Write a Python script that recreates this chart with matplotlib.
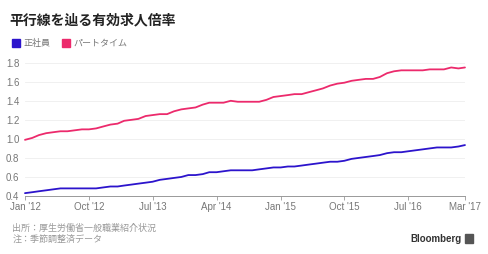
import matplotlib
matplotlib.use("Agg")
import matplotlib.pyplot as plt
import numpy as np
import pandas as pd

plt.rcParams['font.family'] = ['Noto Sans CJK JP', 'DejaVu Sans']

# monthly, Jan 2012 .. Mar 2017 (seasonally adjusted)
months = pd.date_range("2012-01-01", "2017-03-01", freq="MS")
regular = [0.43, 0.44, 0.45, 0.46, 0.47, 0.48, 0.48, 0.48, 0.48, 0.48,
           0.48, 0.49, 0.50, 0.50, 0.51, 0.52, 0.53, 0.54, 0.55, 0.57,
           0.58, 0.59, 0.60, 0.62, 0.62, 0.63, 0.65, 0.65, 0.66, 0.67,
           0.67, 0.67, 0.67, 0.68, 0.69, 0.70, 0.70, 0.71, 0.71, 0.72,
           0.73, 0.74, 0.75, 0.76, 0.76, 0.77, 0.79, 0.80, 0.81, 0.82,
           0.83, 0.85, 0.86, 0.86, 0.87, 0.88, 0.89, 0.90, 0.91, 0.91,
           0.91, 0.92, 0.935]
parttime = [0.99, 1.01, 1.04, 1.06, 1.07, 1.08, 1.08, 1.09, 1.10, 1.10,
            1.11, 1.13, 1.15, 1.16, 1.19, 1.20, 1.21, 1.24, 1.25, 1.26,
            1.26, 1.29, 1.31, 1.32, 1.33, 1.36, 1.38, 1.38, 1.38, 1.40,
            1.39, 1.39, 1.39, 1.39, 1.41, 1.44, 1.45, 1.46, 1.47, 1.47,
            1.49, 1.51, 1.53, 1.56, 1.58, 1.59, 1.61, 1.62, 1.63, 1.63,
            1.65, 1.69, 1.71, 1.72, 1.72, 1.72, 1.72, 1.73, 1.73, 1.73,
            1.75, 1.74, 1.75]
series_names = ["正社員", "パートタイム"]
colors = ["#2c14cc", "#ec2a6c"]

xtick_dates = ["2012-01-01", "2012-10-01", "2013-07-01", "2014-04-01",
               "2015-01-01", "2015-10-01", "2016-07-01", "2017-03-01"]
xtick_labels = ["Jan '12", "Oct '12", "Jul '13", "Apr '14",
                "Jan '15", "Oct '15", "Jul '16", "Mar '17"]
yticks = [0.4, 0.6, 0.8, 1.0, 1.2, 1.4, 1.6, 1.8]

fig = plt.figure(figsize=(4.88, 2.54), dpi=100)
ax = fig.add_axes([0.0512, 0.2283, 0.9016, 0.5248])

for vals, c in zip([regular, parttime], colors):
    ax.plot(months, vals, color=c, linewidth=1.3, solid_capstyle='round', clip_on=False)

ax.set_xlim(months[0], months[-1])
ax.set_ylim(0.4, 1.8)
ax.set_yticks(yticks)
ax.set_yticklabels([f"{v:.1f}" for v in yticks], family='Liberation Sans', fontsize=7, color='#777777')
ax.set_xticks(pd.to_datetime(xtick_dates))
ax.set_xticklabels(xtick_labels, family='Liberation Sans', fontsize=7, color='#777777')
ax.tick_params(axis='y', length=0, pad=4)
ax.tick_params(axis='x', length=3, width=0.6, color='#999999', pad=1.5)

ax.grid(axis='y', color='#eeeeee', linewidth=0.6)
ax.set_axisbelow(True)
for s in ['top', 'right', 'left']:
    ax.spines[s].set_visible(False)
ax.spines['bottom'].set_color('#999999')
ax.spines['bottom'].set_linewidth(0.7)

# title and legend
fig.text(0.02, 0.92, "平行線を辿る有効求人倍率", fontsize=10, fontweight='bold', color='#222222', va='center')
lx = [0.025, 0.127]
for x, name, c in zip(lx, series_names, colors):
    fig.patches.append(plt.Rectangle((x, 0.815), 0.016, 0.03, transform=fig.transFigure, color=c))
    fig.text(x + 0.024, 0.83, name, fontsize=6.5, color='#777777', va='center')

# footer
fig.text(0.025, 0.10, "出所：厚生労働省一般職業紹介状況", fontsize=6.5, color='#999999', va='center')
fig.text(0.025, 0.057, "注：季節調整済データ", fontsize=6.5, color='#999999', va='center')
fig.text(0.945, 0.06, "Bloomberg", fontsize=7, fontweight='bold', family='Liberation Sans',
         color='#333333', ha='right', va='center')
fig.patches.append(plt.Rectangle((0.953, 0.043), 0.016, 0.035, transform=fig.transFigure, color='#555555'))

fig.savefig("out.png", dpi=100)
